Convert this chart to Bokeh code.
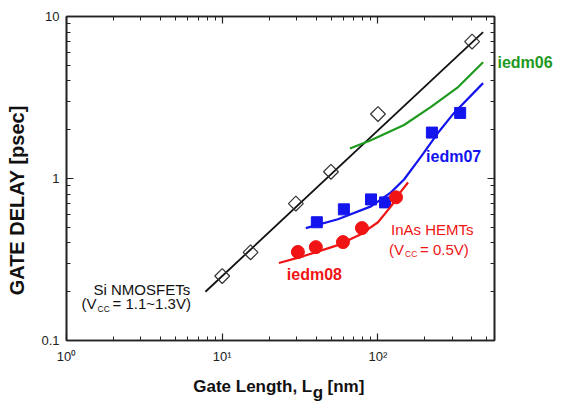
import math
from bokeh.plotting import figure
from bokeh.models import Range1d, LogAxis, FixedTicker, Label, CustomJSTickFormatter
from bokeh.embed import file_html
from bokeh.resources import INLINE

# ---------------- data ----------------
si_lg = [10, 15.2, 29.7, 49.9, 100, 402]
si_delay = [0.25, 0.35, 0.70, 1.10, 2.5, 7.0]
si_fit_lg = [7.8, 473]
si_fit_delay = [0.20, 8.0]

iedm06_lg = [66, 90, 147, 219, 327, 473]
iedm06_delay = [1.53, 1.72, 2.14, 2.77, 3.67, 5.22]

iedm07_lg = [40.5, 60.4, 90.2, 111, 222, 337]
iedm07_delay = [0.537, 0.645, 0.743, 0.712, 1.92, 2.54]
iedm07_fit_lg = [34.4, 55.3, 90.2, 121.2, 147, 189, 243, 308, 473]
iedm07_fit_delay = [0.494, 0.560, 0.673, 0.821, 0.986, 1.365, 1.915, 2.54, 3.88]

iedm08_lg = [30.6, 39.9, 59.6, 78.9, 130.6]
iedm08_delay = [0.352, 0.377, 0.405, 0.494, 0.765]
iedm08_fit_lg = [23.1, 33.4, 55.3, 77.8, 100, 121.2, 140.6, 156]
iedm08_fit_delay = [0.301, 0.332, 0.388, 0.453, 0.537, 0.673, 0.832, 0.945]

x_major = [1, 10, 100]
x_minor = [2, 3, 4, 5, 6, 7, 8, 9, 20, 30, 40, 50, 60, 70, 80, 90, 200, 300, 400, 500]
x_tick_labels = ["10\u2070", "10\u00b9", "10\u00b2"]
y_major = [0.1, 1, 10]
y_minor = [0.2, 0.3, 0.4, 0.5, 0.6, 0.7, 0.8, 0.9, 2, 3, 4, 5, 6, 7, 8, 9]
y_tick_labels = ["0.1", "1", "10"]

# titles / outside-frame labels, placed at axis positions
x_title_parts = ["Gate Length, L", "\ng", "[nm]"]   # "g" is the subscript of L
x_title_at = [15.7, 41.1, 62.3]
y_title = "GATE DELAY [psec]"
y_title_at = 0.733
iedm06_label = "iedm06"
iedm06_label_at = 5.22

# ---------------- styles ----------------
FONT = "Liberation Sans"
BLACK = "#111111"
GREEN = "#1e9a1e"
BLUE = "#1414ee"
RED = "#f01414"
AX = "#222222"

p = figure(width=561, height=405, x_axis_type="log", y_axis_type="log",
           x_range=Range1d(1, 560), y_range=Range1d(0.1, 10),
           output_backend="svg", toolbar_location=None,
           min_border_left=66, min_border_right=67, min_border_top=16, min_border_bottom=63)
p.grid.visible = False
p.background_fill_color = "white"
p.border_fill_color = "white"
p.outline_line_color = AX
p.outline_line_width = 1.6

def style_axis(ax, ticker, labels=None, majors=None):
    ax.ticker = ticker
    ax.axis_line_color = AX
    ax.axis_line_width = 1.6
    ax.major_tick_in = 7
    ax.major_tick_out = 0
    ax.minor_tick_in = 4
    ax.minor_tick_out = 0
    ax.major_tick_line_color = AX
    ax.minor_tick_line_color = AX
    ax.major_tick_line_width = 1.2
    ax.minor_tick_line_width = 1.0
    ax.major_label_text_font = FONT
    ax.major_label_text_font_size = "13px"
    ax.major_label_text_color = AX
    if labels is None:
        ax.formatter = CustomJSTickFormatter(code="return ''")
        ax.major_label_standoff = 0
    else:
        ax.major_label_overrides = {m: l for m, l in zip(majors, labels)}

def text_axis(ticks, labels, color, size, standoff, orientation="horizontal", line_height=1.2):
    ax = LogAxis(ticker=FixedTicker(ticks=ticks, minor_ticks=[]))
    ax.axis_line_color = None
    ax.major_tick_line_color = None
    ax.minor_tick_line_color = None
    ax.major_tick_in = 0
    ax.major_tick_out = 0
    ax.minor_tick_in = 0
    ax.minor_tick_out = 0
    ax.major_label_overrides = {t: l for t, l in zip(ticks, labels)}
    ax.major_label_text_font = FONT
    ax.major_label_text_font_size = size
    ax.major_label_text_font_style = "bold"
    ax.major_label_text_color = color
    ax.major_label_text_line_height = line_height
    ax.major_label_standoff = standoff
    ax.major_label_orientation = orientation
    return ax

style_axis(p.xaxis[0], FixedTicker(ticks=x_major, minor_ticks=x_minor), x_tick_labels, x_major)
p.xaxis[0].major_label_standoff = 8
style_axis(p.yaxis[0], FixedTicker(ticks=y_major, minor_ticks=y_minor), y_tick_labels, y_major)
p.yaxis[0].major_label_standoff = 7

top = LogAxis()
style_axis(top, FixedTicker(ticks=x_major, minor_ticks=x_minor))
p.add_layout(top, "above")
right = LogAxis()
style_axis(right, FixedTicker(ticks=y_major, minor_ticks=y_minor))
p.add_layout(right, "right")

# outside-frame texts as label-only axes
p.add_layout(text_axis([iedm06_label_at], [iedm06_label], GREEN, "16px", 3), "right")
p.add_layout(text_axis(x_title_at, x_title_parts, BLACK, "17px", 10, line_height=0.36), "below")
p.add_layout(text_axis([y_title_at], [y_title], BLACK, "20px", 10, "vertical"), "left")

# ---------------- glyphs ----------------
p.line(si_fit_lg, si_fit_delay, line_color=BLACK, line_width=1.8)
p.scatter(si_lg, si_delay, marker="square", angle=math.pi / 4, size=10.5,
          fill_color=None, line_color="#333333", line_width=1.2)

p.line(iedm06_lg, iedm06_delay, line_color=GREEN, line_width=2.2, line_join="round")

p.line(iedm07_fit_lg, iedm07_fit_delay, line_color=BLUE, line_width=2.2, line_join="round")
p.scatter(iedm07_lg, iedm07_delay, marker="square", size=11,
          fill_color=BLUE, line_color=BLUE)

p.line(iedm08_fit_lg, iedm08_fit_delay, line_color=RED, line_width=2.2, line_join="round")
p.scatter(iedm08_lg, iedm08_delay, marker="circle", size=13,
          fill_color=RED, line_color=RED)

# ---------------- in-frame texts ----------------
def lab(x, y, text, color=BLACK, size="15px", style="normal", dx=0, dy=0):
    p.add_layout(Label(x=x, y=y, text=text, x_offset=dx, y_offset=dy,
                       text_font=FONT, text_font_size=size, text_font_style=style,
                       text_color=color, text_align="left", text_baseline="middle"))

lab(203.6, 1.365, "iedm07", BLUE, "16px", "bold")
lab(26.0, 0.254, "iedm08", RED, "16px", "bold")

lab(1.49, 0.2055, "Si NMOSFETs", BLACK, "15px")
lab(1.249, 0.1686, "(V", BLACK, "15px")
lab(1.249, 0.1686, "CC", BLACK, "8.5px", dx=16, dy=-5)
lab(1.249, 0.1686, " = 1.1~1.3V)", BLACK, "15px", dx=31)

lab(121.2, 0.486, "InAs HEMTs", RED, "15px")
lab(117.7, 0.3667, "(V", RED, "15px")
lab(117.7, 0.3667, "CC", RED, "8.5px", dx=16, dy=-5)
lab(117.7, 0.3667, " = 0.5V)", RED, "15px", dx=31)

open("out.html", "w").write(file_html(p, INLINE))
